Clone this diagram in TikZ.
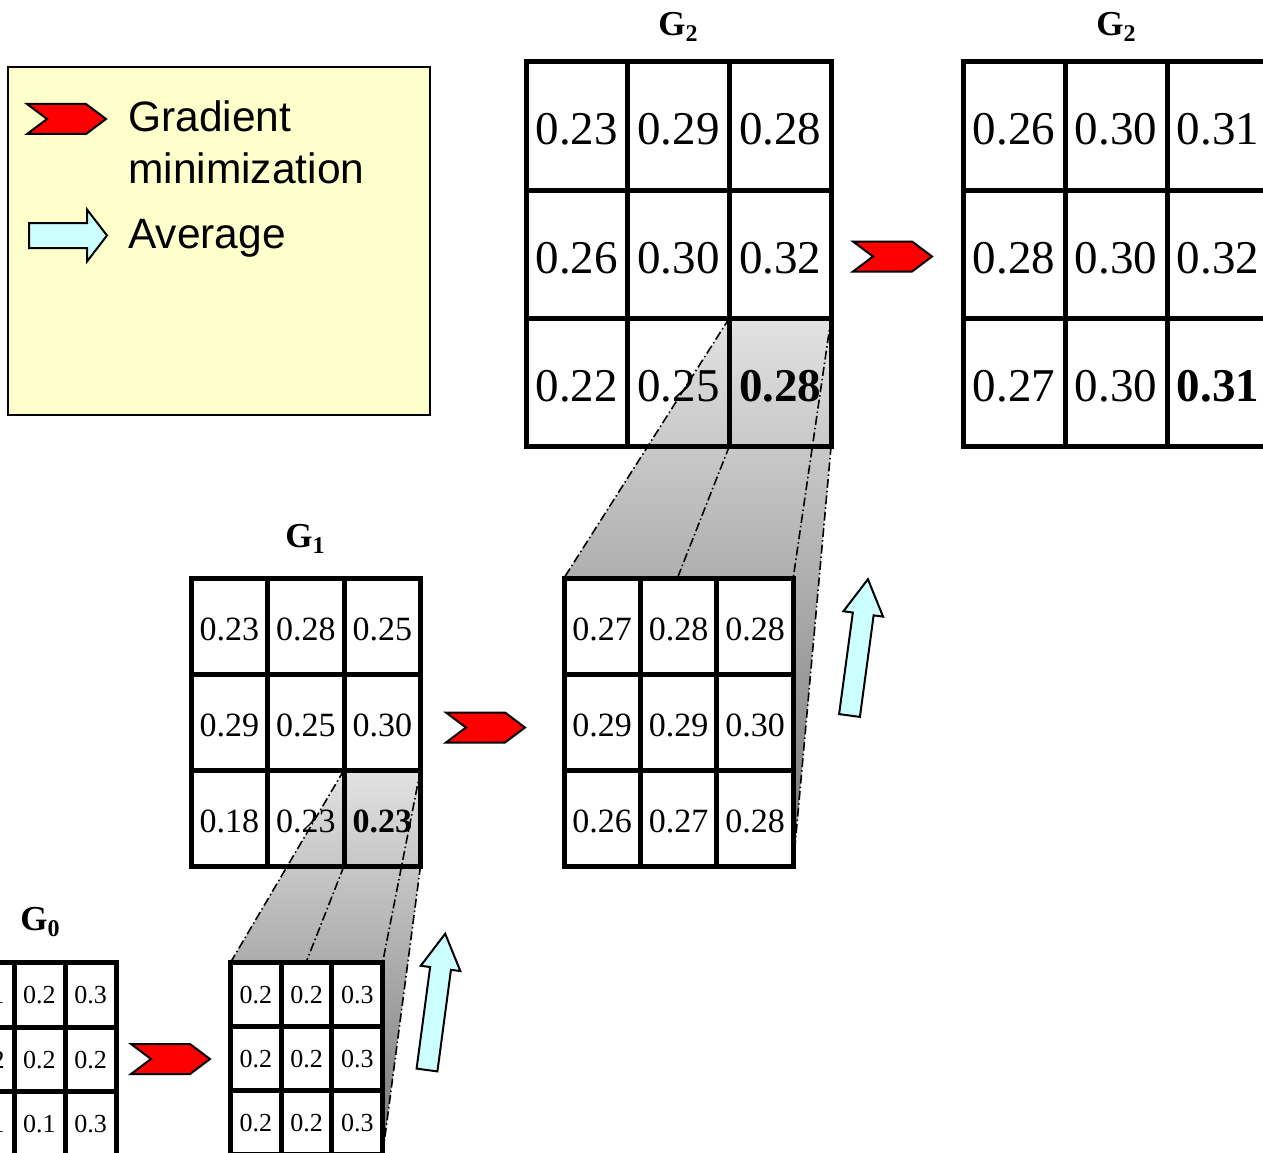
\documentclass[tikz,border=0pt]{standalone}
\usepackage{fontspec}
\setmainfont{Liberation Serif}
\newfontfamily\legendfont{Liberation Sans}
\usetikzlibrary{calc}

% drawing layers: grey projection at the back, dash-dot edges above the
% upper grids, lower (white) grids in front of everything
\pgfdeclarelayer{shadelayer}
\pgfdeclarelayer{dashlayer}
\pgfdeclarelayer{frontlayer}
\pgfsetlayers{shadelayer,main,dashlayer,frontlayer}

\definecolor{legendfill}{HTML}{FFFFCC}
\definecolor{avgfill}{HTML}{CCFFFF}
\definecolor{gradred}{HTML}{FF0000}
\definecolor{shadetop}{HTML}{E2E2E2}
\definecolor{shadebot}{HTML}{767676}

\tikzset{
  cell/.style={rectangle, draw=black, line width=5pt, inner sep=0pt, outer sep=0pt,
    text depth=0pt},
  bigval/.style={font=\fontsize{47}{50}\selectfont, text height=38pt},
  midval/.style={font=\fontsize{34}{40}\selectfont, text height=28pt},
  smallval/.style={font=\fontsize{26}{30}\selectfont, text height=18pt},
  whitecell/.style={fill=white},
  gridlabel/.style={font=\fontsize{35}{40}\selectfont\bfseries, inner sep=0pt, anchor=base},
  legendbox/.style={draw=black, line width=2.5pt, fill=legendfill, inner sep=0pt,
    outer sep=0pt, anchor=north west},
  legendtext/.style={font=\legendfont\fontsize{42.5}{48}\selectfont, inner sep=0pt,
    anchor=base west},
  projline/.style={line width=1.6pt, dash pattern=on 9pt off 3pt on 1.5pt off 3pt},
  chevron/.style={fill=gradred, draw=black, line width=2pt},
  blockarrow/.style={fill=avgfill, draw=black, line width=2pt},
  gradchev/.pic={\path[chevron] (0,-15) -- (59,-15) -- (79,0) -- (59,15) -- (0,15)
    -- (20,0) -- cycle;},
  avgbig/.pic={\path[blockarrow] (0,-10.5) -- (102.5,-10.5) -- (102.5,-20) -- (137.5,0)
    -- (102.5,20) -- (102.5,10.5) -- (0,10.5) -- cycle;},
  avgsmall/.pic={\path[blockarrow] (0,-12.5) -- (58,-12.5) -- (58,-26) -- (78,0)
    -- (58,26) -- (58,12.5) -- (0,12.5) -- cycle;},
}

% 3x3 grid of value cells: name, left, top, cell width, cell height, style, values
\newcommand\valgrid[7]{%
  \foreach \v [count=\k from 0] in {#7} {
    \pgfmathtruncatemacro\r{\k/3}
    \pgfmathtruncatemacro\c{\k-3*\r}
    \node[cell, #6, minimum width=#4, minimum height=#5] (#1-\r-\c)
      at ({#2+(\c+0.5)*#4}, {#3+(\r+0.5)*#5}) {\v};
  }}

\begin{document}
\begin{tikzpicture}[x=1pt, y=-1pt]
\useasboundingbox (0,0) rectangle (1263,1153);

% legend
\node[legendbox, minimum width=422, minimum height=348] (legend) at (8,67) {};
\pic (leggrad) at (27,119) {gradchev};
\node[legendtext] (legtxt1) at (128,131.7) {Gradient};
\node[legendtext] (legtxt2) at (128,183) {minimization};
\pic (legavg) at (29,235.5) {avgsmall};
\node[legendtext] (legtxt3) at (128,248) {Average};

% level labels
\node[gridlabel] (lblGa) at (678,36) {G\raisebox{-6pt}{\fontsize{24}{24}\selectfont 2}};
\node[gridlabel] (lblGb) at (1116,36) {G\raisebox{-6pt}{\fontsize{24}{24}\selectfont 2}};
\node[gridlabel] (lblGc) at (305,547) {G\raisebox{-6pt}{\fontsize{24}{24}\selectfont 1}};
\node[gridlabel] (lblGd) at (40,930) {G\raisebox{-6pt}{\fontsize{24}{24}\selectfont 0}};

% upper grids
\valgrid{g2a}{526}{62}{101.7}{128}{bigval}{0.23,0.29,0.28,0.26,0.30,0.32,0.22,0.25,{\textbf{0.28}}}
\valgrid{g2b}{963}{62}{102}{128}{bigval}{0.26,0.30,0.31,0.28,0.30,0.32,0.27,0.30,{\textbf{0.31}}}
\valgrid{g1a}{191}{578}{76.5}{96}{midval}{0.23,0.28,0.25,0.29,0.25,0.30,0.18,0.23,{\textbf{0.23}}}
\valgrid{g0a}{-37}{962.5}{51}{64.5}{smallval}{0.1,0.2,0.3,0.2,0.2,0.2,0.1,0.1,0.3}

% lower grids, in front of the projections
\begin{pgfonlayer}{frontlayer}
\valgrid{g1b}{564}{578}{76.4}{96}{midval,whitecell}{0.27,0.28,0.28,0.29,0.29,0.30,0.26,0.27,0.28}
\valgrid{g0b}{230.5}{962.5}{50.7}{64}{smallval,whitecell}{0.2,0.2,0.3,0.2,0.2,0.3,0.2,0.2,0.3}
\end{pgfonlayer}

% projections of a coarse cell onto the finer grid below it
\begin{pgfonlayer}{shadelayer}
\shade[top color=shadetop, bottom color=shadebot]
  (g2a-2-2.north west) -- (g2a-2-2.north east) -- (g2a-2-2.south east)
  -- (g1b-2-2.south east) -- (g1b-2-0.south west) -- (g1b-0-0.north west) -- cycle;
\shade[top color=shadetop, bottom color=shadebot]
  (g1a-2-2.north west) -- (g1a-2-2.north east) -- (g1a-2-2.south east)
  -- (g0b-2-2.south east) -- (g0b-2-0.south west) -- (g0b-0-0.north west) -- cycle;
\end{pgfonlayer}
\begin{pgfonlayer}{dashlayer}
\draw[projline] (g2a-2-2.north west) -- (g1b-0-0.north west);
\draw[projline] (g2a-2-2.north east) -- (g1b-0-2.north east);
\draw[projline] (g2a-2-2.south west) -- (g1b-2-0.south west);
\draw[projline] (g2a-2-2.south east) -- (g1b-2-2.south east);
\draw[projline] (g1a-2-2.north west) -- (g0b-0-0.north west);
\draw[projline] (g1a-2-2.north east) -- (g0b-0-2.north east);
\draw[projline] (g1a-2-2.south west) -- (g0b-2-0.south west);
\draw[projline] (g1a-2-2.south east) -- (g0b-2-2.south east);
\end{pgfonlayer}

% gradient minimization steps
\pic (gradA) at (853,256.5) {gradchev};
\pic (gradB) at (446,727.5) {gradchev};
\pic (gradC) at (131,1059) {gradchev};

% averaging steps
\pic[rotate=82.3] (avgA) at (849.5,715.5) {avgbig};
\pic[rotate=82.4] (avgB) at (427,1070) {avgbig};
\end{tikzpicture}
\end{document}
